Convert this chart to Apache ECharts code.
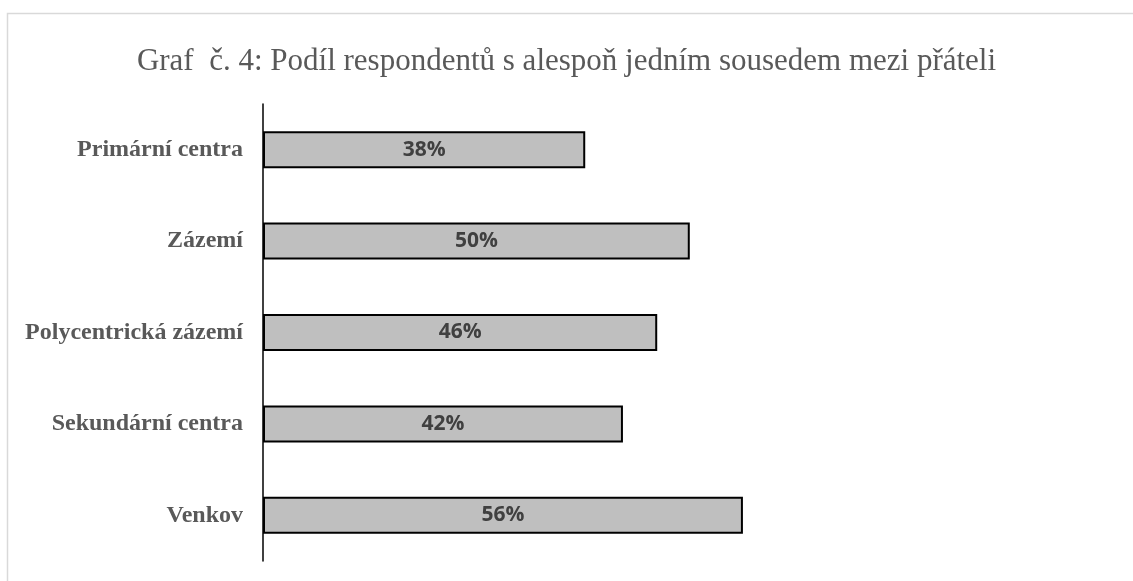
<!DOCTYPE html>
<html>
<head>
<meta charset="utf-8">
<script src="https://cdn.jsdelivr.net/npm/echarts@6/dist/echarts.min.js"></script>
<style>
html, body { margin: 0; padding: 0; background: #fff; }
#chart { width: 1133px; height: 581px; }
</style>
</head>
<body>
<div id="chart"></div>
<script>
var categories = ['Primární centra', 'Zázemí', 'Polycentrická zázemí', 'Sekundární centra', 'Venkov'];
var shares = [37.6, 49.8, 46.0, 42.0, 56.0];

var myCharts = echarts.init(document.getElementById('chart'));
var option = {
	backgroundColor: '#fff',
	title: {
		text: 'Graf  č. 4: Podíl respondentů s alespoň jedním sousedem mezi přáteli',
		left: 'center',
		top: 41,
		textStyle: {
			color: '#595959',
			fontFamily: '"Liberation Serif", "DejaVu Serif", serif',
			fontWeight: 'normal',
			fontSize: 31
		}
	},
	graphic: [{
		type: 'rect',
		shape: { x: 7.5, y: 13.5, width: 1200, height: 700 },
		style: { fill: 'none', stroke: '#d9d9d9', lineWidth: 1.5 },
		silent: true
	}],
	grid: {
		left: 263,
		right: 13,
		top: 104,
		bottom: 20,
		containLabel: false
	},
	xAxis: {
		type: 'value',
		min: 0,
		max: 100,
		show: false
	},
	yAxis: {
		type: 'category',
		inverse: true,
		data: categories,
		axisLine: {
			show: true,
			lineStyle: { color: '#000', width: 1.5 }
		},
		axisTick: { show: false },
		axisLabel: {
			margin: 20,
			color: '#595959',
			fontFamily: '"Liberation Serif", "DejaVu Serif", serif',
			fontWeight: 'bold',
			fontSize: 24
		}
	},
	series: [{
		type: 'bar',
		data: shares,
		barWidth: 37,
		itemStyle: {
			color: '#bfbfbf',
			borderColor: '#000',
			borderWidth: 2
		},
		label: {
			show: true,
			position: 'inside',
			color: '#404040',
			fontFamily: '"Open Sans", "DejaVu Sans", sans-serif',
			fontWeight: 'bold',
			fontSize: 21,
			formatter: function (p) {
				return Math.round(p.value) + '%';
			}
		},
		animation: false
	}]
};
myCharts.setOption(option);
</script>
</body>
</html>
